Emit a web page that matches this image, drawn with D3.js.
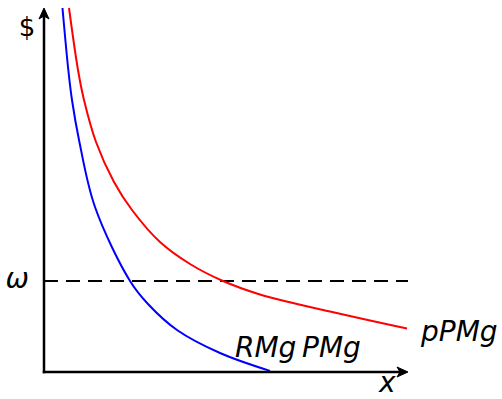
<!DOCTYPE html>
<html>
<head>
<meta charset="utf-8">
<script src="https://cdn.jsdelivr.net/npm/d3@7/dist/d3.min.js"></script>
<style>
html,body{margin:0;padding:0;background:#fff;}
svg{display:block;}
text{font-family:"DejaVu Sans",sans-serif;fill:#000;}
</style>
</head>
<body>
<svg id="chart" width="502" height="399"></svg>
<script>
// Data (abstract units: x 0..10, $ 0..10)
const pPMgX = [0.687, 0.934, 1.099, 1.429, 1.923, 2.418, 3.187, 4.011, 4.918, 5.934, 6.841, 7.857, 8.956, 9.973];
const pPMgY = [10.0, 8.297, 7.473, 6.319, 5.220, 4.451, 3.571, 2.967, 2.500, 2.129, 1.896, 1.662, 1.415, 1.195];
const RMgX  = [0.508, 0.668, 0.769, 0.962, 1.401, 2.363, 2.857, 3.654, 4.835, 6.209];
const RMgY  = [10.0, 8.297, 7.473, 6.374, 4.533, 2.500, 1.868, 1.154, 0.522, 0.03];
const omega = 2.5;
const axisMax = [10, 10];
const labels = {yAxis: "$", xAxis: "x", omega: "ω", curveBlue: "RMg", curveMid: "PMg", curveRed: "pPMg"};

const svg = d3.select("#chart");
const x = d3.scaleLinear().domain([0, 10]).range([44, 408]);
const y = d3.scaleLinear().domain([0, 10]).range([372, 8]);

const line = d3.line().x(d => x(d[0])).y(d => y(d[1])).curve(d3.curveCatmullRom.alpha(0.5));

// dashed omega line
svg.append("line")
  .attr("x1", x(0)).attr("x2", x(axisMax[0]))
  .attr("y1", y(omega)).attr("y2", y(omega))
  .attr("stroke", "#000").attr("stroke-width", 2)
  .attr("stroke-dasharray", "14,8");

// curves
svg.append("path").datum(RMgX.map((v, i) => [v, RMgY[i]]))
  .attr("d", line).attr("fill", "none").attr("stroke", "#0000ff").attr("stroke-width", 2);
svg.append("path").datum(pPMgX.map((v, i) => [v, pPMgY[i]]))
  .attr("d", line).attr("fill", "none").attr("stroke", "#ff0000").attr("stroke-width", 2);

// axes
svg.append("line").attr("x1", x(0)).attr("x2", x(0)).attr("y1", y(0) + 1.25).attr("y2", y(axisMax[1]) + 4)
  .attr("stroke", "#000").attr("stroke-width", 2.5);
svg.append("line").attr("x1", x(0) - 1.25).attr("x2", x(axisMax[0]) - 4).attr("y1", y(0)).attr("y2", y(0))
  .attr("stroke", "#000").attr("stroke-width", 2.5);

// arrowheads
const tx = x(0), ty = y(axisMax[1]);
svg.append("path")
  .attr("d", `M${tx},${ty} L${tx - 5},${ty + 11} L${tx},${ty + 8} L${tx + 5},${ty + 11} Z`)
  .attr("fill", "#000").attr("stroke", "#000").attr("stroke-width", 1).attr("stroke-linejoin", "miter");
const rx = x(axisMax[0]), ry = y(0);
svg.append("path")
  .attr("d", `M${rx},${ry} L${rx - 11},${ry - 5} L${rx - 8},${ry} L${rx - 11},${ry + 5} Z`)
  .attr("fill", "#000").attr("stroke", "#000").attr("stroke-width", 1).attr("stroke-linejoin", "miter");

// labels
svg.append("text").attr("x", 27).attr("y", 36).attr("text-anchor", "middle")
  .style("font-size", "26px").text(labels.yAxis);
svg.append("text").attr("x", 29).attr("y", y(omega) + 7).attr("text-anchor", "end")
  .style("font-size", "28px").style("font-style", "italic").text(labels.omega);
svg.append("text").attr("x", 379).attr("y", 392)
  .style("font-size", "28px").style("font-style", "italic").text(labels.xAxis);
svg.append("text").attr("x", 235).attr("y", 357)
  .style("font-size", "28px").style("font-style", "italic").text(labels.curveBlue);
svg.append("text").attr("x", 302).attr("y", 357)
  .style("font-size", "28px").style("font-style", "italic").text(labels.curveMid);
svg.append("text").attr("x", 421).attr("y", 341)
  .style("font-size", "28px").style("font-style", "italic").text(labels.curveRed);
</script>
</body>
</html>
